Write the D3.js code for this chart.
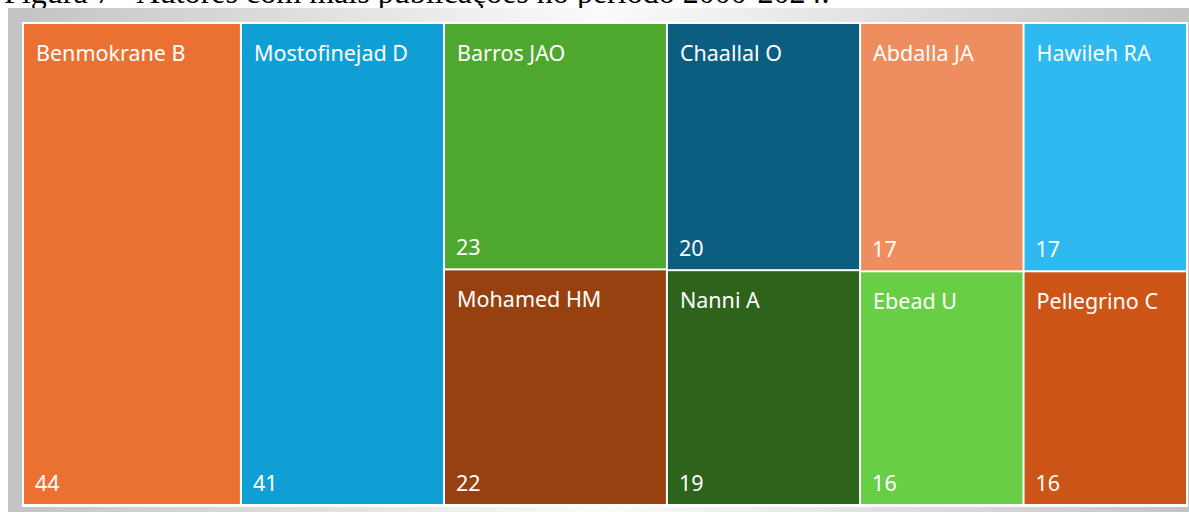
<!DOCTYPE html>
<html>
<head>
<meta charset="utf-8">
<script src="https://cdn.jsdelivr.net/npm/d3@7"></script>
<style>
  html, body { margin: 0; padding: 0; background: #fff; overflow: hidden; }
  svg { display: block; }
</style>
</head>
<body>
<svg id="chart" width="1189" height="512"></svg>
<script>
/* ── Data ── */
const authors = [
  'Benmokrane B', 'Mostofinejad D', 'Barros JAO', 'Mohamed HM', 'Chaallal O',
  'Nanni A', 'Abdalla JA', 'Ebead U', 'Hawileh RA', 'Pellegrino C',
];
const publications = [44, 41, 23, 22, 20, 19, 17, 16, 17, 16];
// column each author sits in (Excel-style treemap columns)
const columns = [0, 1, 2, 2, 3, 3, 4, 4, 5, 5];
const colors = [
  '#EB7133', '#0F9FD5', '#4EA72E', '#974110', '#0C5E80',
  '#2E631C', '#EE8E5E', '#68CE46', '#2EB9F0', '#CC5517',
];
const caption = 'Figura 7 - Autores com mais publicações no período 2000-2024.';

const W = 1189, H = 512;
const svg = d3.select('#chart');

/* ── Caption (cut off at the top, as in the page it was taken from) ── */
const cap = svg.append('text')
  .attr('x', 4).attr('y', 3)
  .attr('font-family', "'Liberation Serif', 'Times New Roman', serif")
  .attr('font-size', 24)
  .attr('fill', '#000')
  .text(caption);
const capLen = cap.node().getComputedTextLength();
cap.attr('font-size', 24 * 826 / capLen);

/* ── Grey frame ── */
const defs = svg.append('defs');
const grad = defs.append('linearGradient').attr('id', 'frame')
  .attr('x1', '0%').attr('x2', '100%').attr('y1', '0%').attr('y2', '0%');
grad.append('stop').attr('offset', '0%').attr('stop-color', '#c3c3c3');
grad.append('stop').attr('offset', '50%').attr('stop-color', '#fbfbfb');
grad.append('stop').attr('offset', '100%').attr('stop-color', '#c3c3c3');

svg.append('rect')
  .attr('x', 8).attr('y', 8)
  .attr('width', W + 6 - 8).attr('height', H - 8)
  .attr('fill', 'url(#frame)');
svg.append('rect')
  .attr('x', 22).attr('y', 22)
  .attr('width', 1166).attr('height', 485)
  .attr('fill', '#fff');

/* ── Treemap ── */
const items = authors.map((a, i) => ({
  name: a, value: publications[i], color: colors[i], col: columns[i],
}));
const groups = d3.groups(items, d => d.col)
  .map(([c, kids]) => ({ name: 'col' + c, children: kids }));

const root = d3.hierarchy({ name: 'root', children: groups })
  .sum(d => d.children ? 0 : d.value);

d3.treemap()
  .tile(d3.treemapSliceDice)
  .size([1162, 480])
  .paddingInner(2)
  .round(false)(root);

const g = svg.append('g').attr('transform', 'translate(24,24)');

const cell = g.selectAll('g.cell')
  .data(root.leaves())
  .join('g')
  .attr('class', 'cell')
  .attr('transform', d => `translate(${d.x0},${d.y0})`);

cell.append('rect')
  .attr('width', d => d.x1 - d.x0)
  .attr('height', d => d.y1 - d.y0)
  .attr('fill', d => d.data.color);

const font = "'Noto Sans', 'Open Sans', sans-serif";

cell.append('text')
  .attr('x', 12).attr('y', 37)
  .attr('font-family', font)
  .attr('font-size', 21.5)
  .attr('fill', '#fff')
  .text(d => d.data.name);

cell.append('text')
  .attr('x', 11)
  .attr('y', d => d.y1 - d.y0 - 13)
  .attr('font-family', font)
  .attr('font-size', 21.5)
  .attr('fill', '#fff')
  .text(d => d.data.value);
</script>
</body>
</html>
